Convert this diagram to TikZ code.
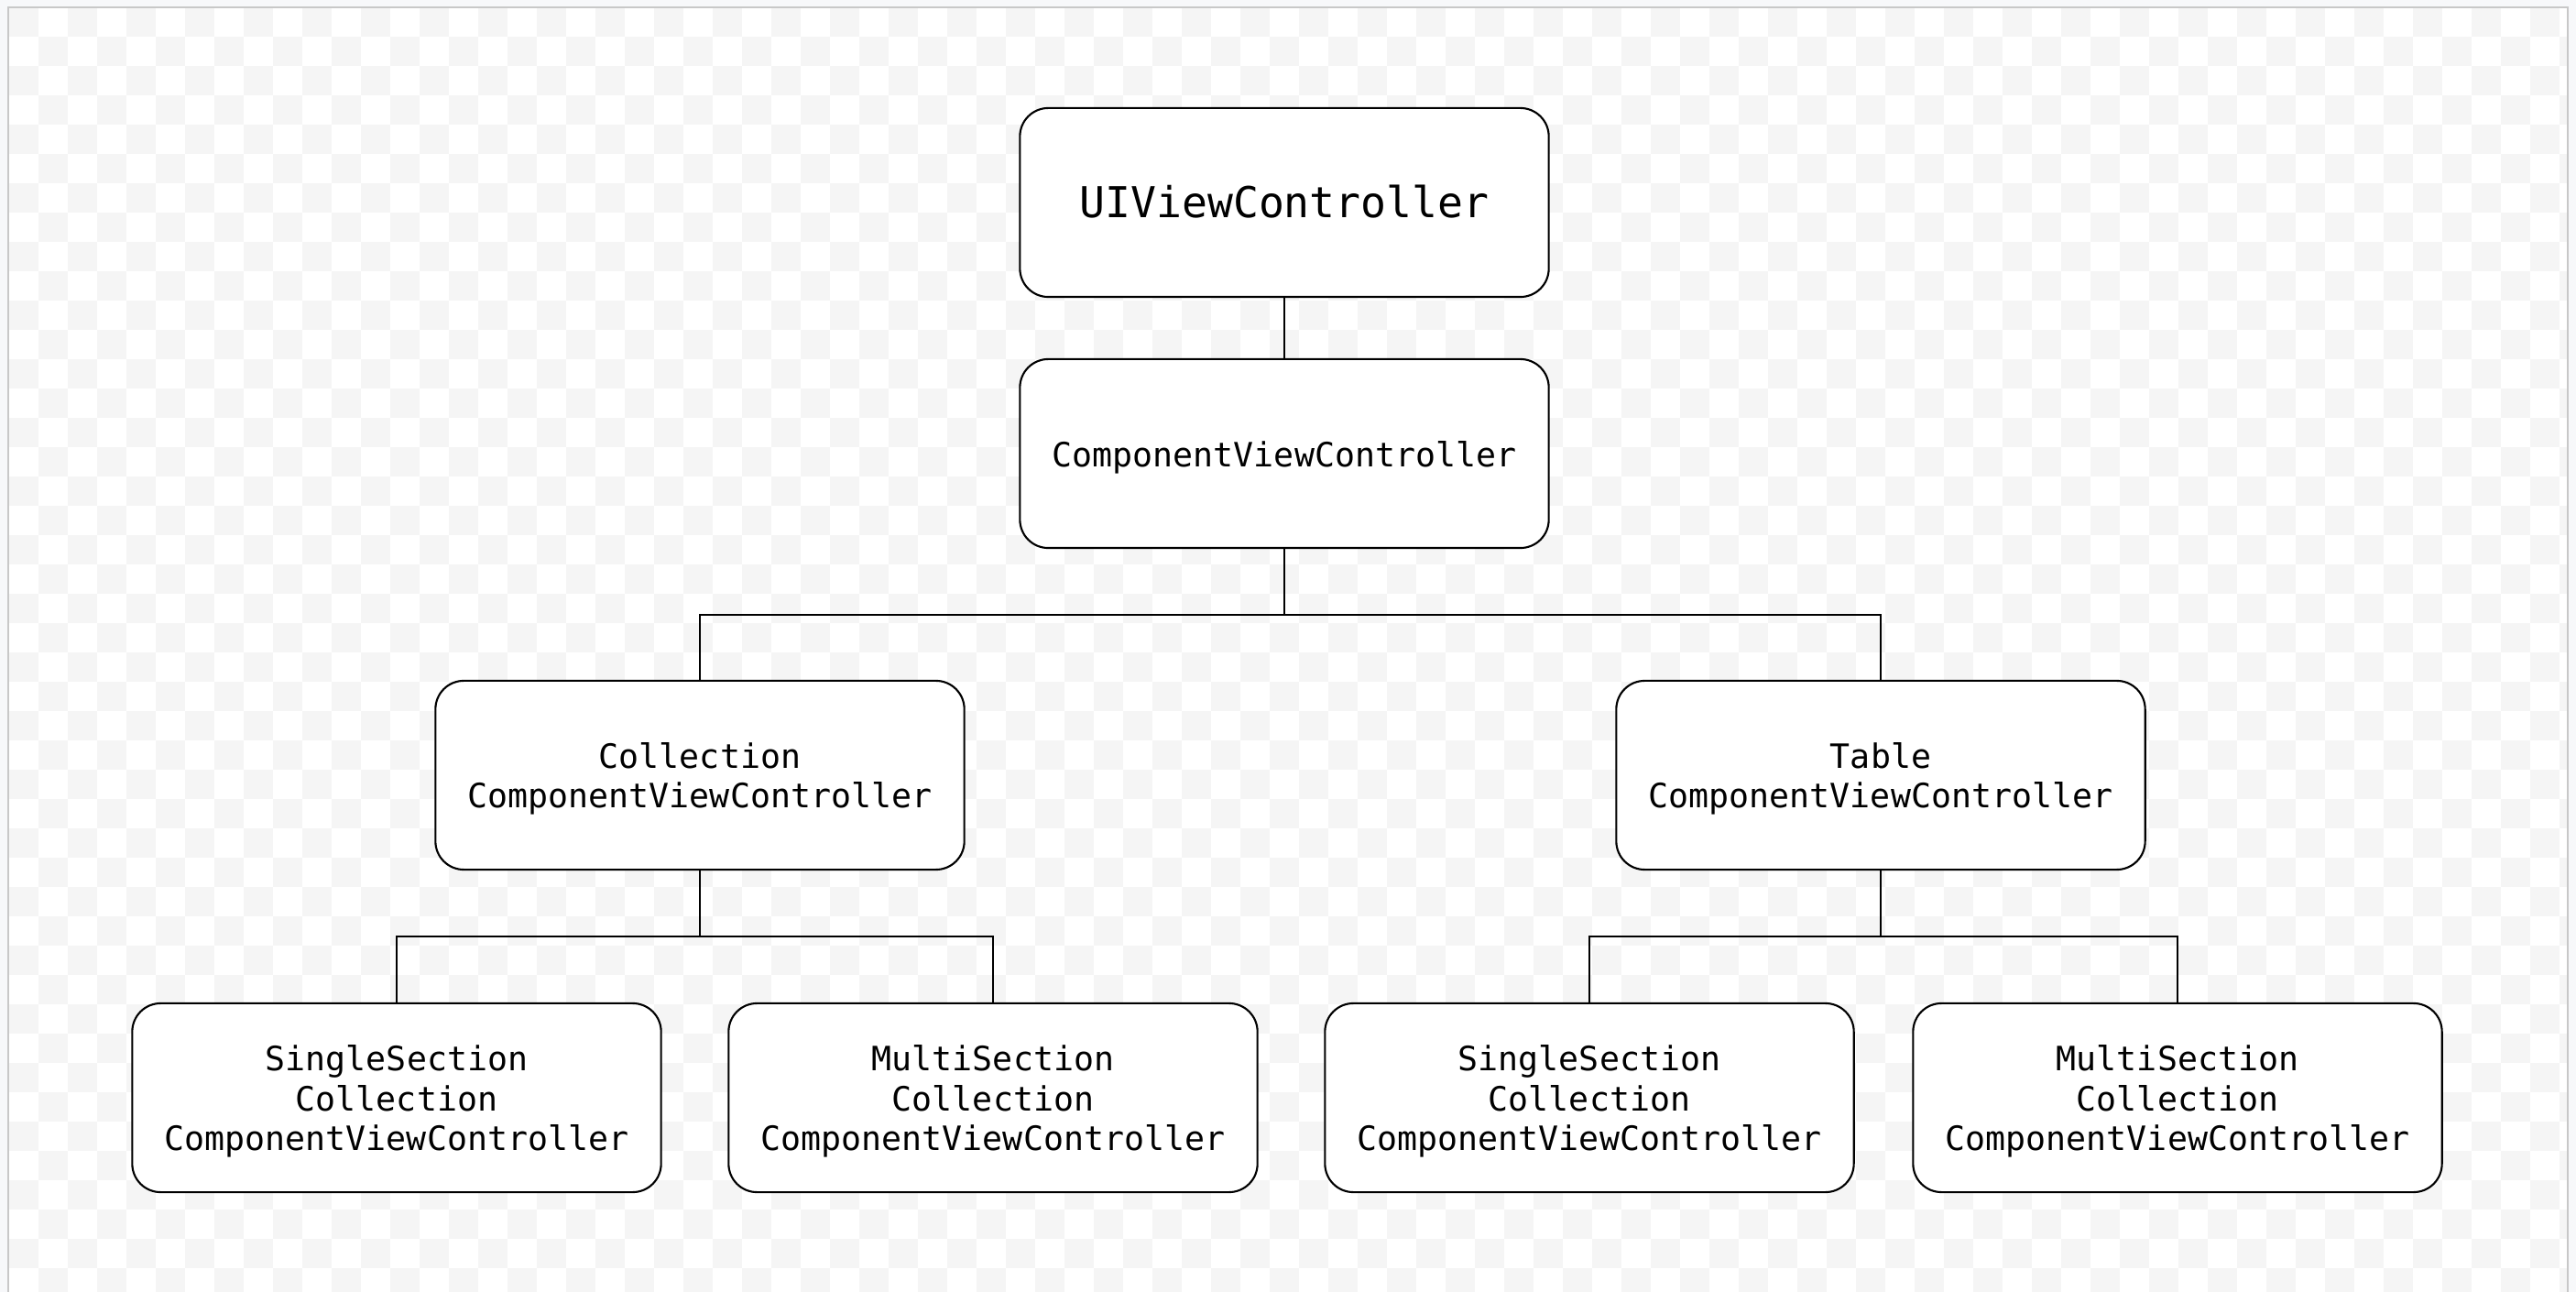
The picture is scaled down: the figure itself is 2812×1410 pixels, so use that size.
\documentclass[tikz,border=0pt]{standalone}
\usepackage{fontspec}
\setmonofont{DejaVu Sans Mono}
\definecolor{outerbg}{HTML}{F7F8FA}
\definecolor{framegray}{HTML}{C8C8C8}
\definecolor{checkgray}{HTML}{F5F5F5}
\tikzset{
  boxtext/.style={align=center, inner sep=0pt, yshift=-1.1pt,
    font=\ttfamily\fontsize{10.4}{12.3}\selectfont},
  bigtext/.style={align=center, inner sep=0pt, yshift=0.2pt,
    font=\ttfamily\fontsize{13.2}{15}\selectfont},
  box/.style={draw=black, line width=0.6pt, fill=white, rounded corners=0.31cm,
    minimum width=5.77cm, minimum height=2.06cm, inner sep=0pt,
    label={[boxtext]center:#1}},
  bigbox/.style={draw=black, line width=0.6pt, fill=white, rounded corners=0.31cm,
    minimum width=5.77cm, minimum height=2.06cm, inner sep=0pt,
    label={[bigtext]center:#1}},
  link/.style={draw=black, line width=0.6pt}
}
\begin{document}
\begin{tikzpicture}[x=0.01cm, y=-0.01cm]
\useasboundingbox (0,0) rectangle (2812,1410);
\fill[outerbg] (0,0) rectangle (2812,1410);
\fill[white] (9,8) rectangle (2803,1420);
\begin{scope}
\clip (9,8) rectangle (2803,1410);
\foreach \j in {0,...,43}{
  \pgfmathtruncatemacro\s{mod(\j,2)}
  \pgfmathtruncatemacro\st{\s+2}
  \foreach \i in {\s,\st,...,87}{
    \fill[checkgray] (10+32*\i, 8+32*\j) rectangle ++(32,32);
  }
}
\end{scope}
\draw[framegray, line width=0.6pt] (9,1420) -- (9,8) -- (2803,8) -- (2803,1420);

\node[bigbox={UIViewController}] (uivc) at (1402,221) {};
\node[box={ComponentViewController}] (cvc) at (1402,495) {};
\node[box={Collection\\ComponentViewController}] (coll) at (764,846) {};
\node[box={Table\\ComponentViewController}] (table) at (2053,846) {};
\node[box={SingleSection\\Collection\\ComponentViewController}] (ssc) at (433,1198) {};
\node[box={MultiSection\\Collection\\ComponentViewController}] (msc) at (1084,1198) {};
\node[box={SingleSection\\Collection\\ComponentViewController}] (sst) at (1735,1198) {};
\node[box={MultiSection\\Collection\\ComponentViewController}] (mst) at (2377,1198) {};

\coordinate (busA) at (1402,671);
\coordinate (busB) at (764,1022);
\coordinate (busC) at (2053,1022);

\draw[link] (uivc) -- (cvc);
\draw[link] (cvc.south) -- (busA) -| (coll.north);
\draw[link] (busA) -| (table.north);
\draw[link] (coll.south) -- (busB) -| (ssc.north);
\draw[link] (busB) -| (msc.north);
\draw[link] (table.south) -- (busC) -| (sst.north);
\draw[link] (busC) -| (mst.north);
\end{tikzpicture}
\end{document}
